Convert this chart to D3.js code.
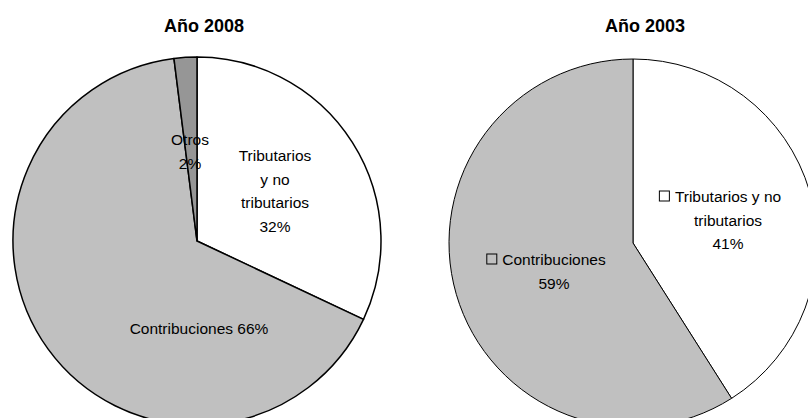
<!DOCTYPE html>
<html lang="es">
  <head>
    <meta charset="utf-8">
    <title>Año 2008 / Año 2003</title>
    <style>
      html, body {
        margin: 0;
        background: #fff;
      }
      svg {
        display: block;
        font-family: "Liberation Sans", Arial, sans-serif;
      }
      .title {
        font-weight: bold;
        font-size: 18px;
      }
      .lbl {
        font-size: 15.5px;
        fill: #000;
      }
    </style>
    <script src="https://d3js.org/d3.v7.min.js"></script>
  </head>
  <body>
    <svg width="808" height="418"></svg>
  <script>
  // data
  const categories2008 = ['Tributarios y no tributarios', 'Contribuciones', 'Otros'];
  const values2008 = [32, 66, 2];
  const categories2003 = ['Tributarios y no tributarios', 'Contribuciones'];
  const values2003 = [41, 59];
  const titles = ['Año 2008', 'Año 2003'];

  // label text as the chart wraps it (lines per slice)
  const labels2008 = [['Tributarios', 'y no', 'tributarios', '32%'], ['Contribuciones 66%'], ['Otros', '2%']];
  const labels2003 = [['Tributarios y no', 'tributarios', '41%'], ['Contribuciones', '59%']];

  const colour = d3.scaleOrdinal()
    .domain(['Tributarios y no tributarios', 'Contribuciones', 'Otros'])
    .range(['#ffffff', '#c0c0c0', '#969696']);

  const svg = d3.select('svg');
  const pie = d3.pie().sort(null).value(d => d.value);
  const radius = 184;
  const arc = d3.arc().innerRadius(0).outerRadius(radius);

  // layout (not data): pie centres, title spots, label anchor spots
  const charts = [
    {
      title: titles[0], cx: 197, cy: 241, tx: 204, ty: 32, stroke: 1.5, box: false,
      cats: categories2008, vals: values2008, labels: labels2008,
      spots: [[275, 161], [199, 334], [190, 145]]
    },
    {
      title: titles[1], cx: 633, cy: 243, tx: 645, ty: 32, stroke: 1, box: true,
      cats: categories2003, vals: values2003, labels: labels2003,
      spots: [[728, 202], [554, 265]]
    }
  ];
  const lineGap = 23.5;

  charts.forEach(c => {
    const rows = c.cats.map((name, i) => ({name: name, value: c.vals[i], lines: c.labels[i], spot: c.spots[i]}));

    svg.append('text')
      .attr('class', 'title')
      .attr('x', c.tx)
      .attr('y', c.ty)
      .attr('text-anchor', 'middle')
      .text(c.title);

    const g = svg.append('g').attr('transform', `translate(${c.cx},${c.cy})`);

    g.selectAll('path')
      .data(pie(rows))
      .enter().append('path')
      .attr('d', arc)
      .attr('fill', d => colour(d.data.name))
      .attr('stroke', '#000')
      .attr('stroke-width', c.stroke)
      .attr('stroke-linejoin', 'round');

    // labels
    rows.forEach(r => {
      const t = svg.append('text')
        .attr('class', 'lbl')
        .attr('text-anchor', 'middle');
      r.lines.forEach((line, k) => {
        t.append('tspan')
          .attr('x', r.spot[0])
          .attr('y', r.spot[1] + k * lineGap)
          .text(line);
      });
      if (c.box) {
        // little legend-key square in front of the first line
        const w = t.select('tspan').node().getComputedTextLength();
        svg.append('rect')
          .attr('x', r.spot[0] - w / 2 - 15.5)
          .attr('y', r.spot[1] - 11)
          .attr('width', 10)
          .attr('height', 10)
          .attr('fill', 'none')
          .attr('stroke', '#000')
          .attr('stroke-width', 1);
      }
    });
  });
  </script>
  </body>
</html>
